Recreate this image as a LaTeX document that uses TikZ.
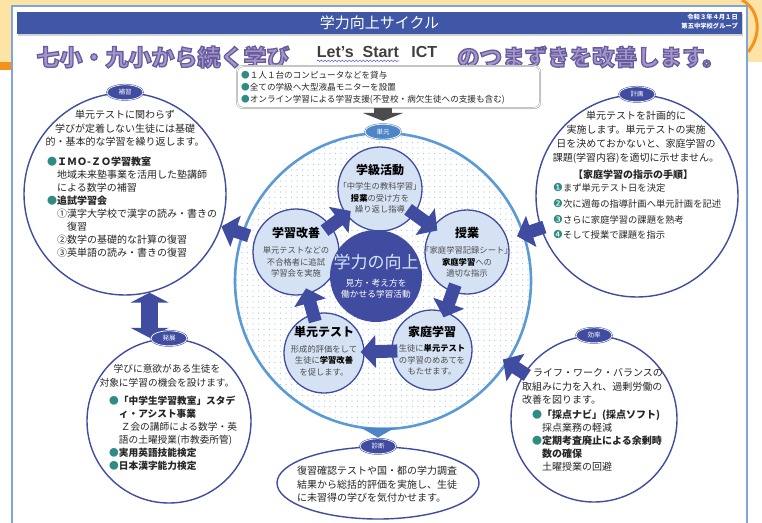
\documentclass[tikz,border=0pt]{standalone}
\usepackage{fontspec}
\setmainfont{Noto Sans CJK JP}
\newfontfamily\dejavu{DejaVu Sans}
\newfontfamily\latinsans{Liberation Sans}
\usetikzlibrary{positioning,arrows.meta,shapes.geometric,patterns.meta,decorations.pathmorphing,shadows}
\definecolor{cyclenavy}{HTML}{3F4CA0}
\definecolor{innerfill}{HTML}{D4E2F3}
\definecolor{ringblue}{HTML}{5B9BD5}
\definecolor{tagblue}{HTML}{4C86C9}
\definecolor{dotteal}{HTML}{2E8C85}
\definecolor{barblue}{HTML}{3F57A6}
\definecolor{headlav}{HTML}{A597CE}
\definecolor{yellowbg}{HTML}{FDE4A4}
\definecolor{orangebg}{HTML}{F5921E}
\definecolor{panelblue}{HTML}{7FA6DA}
\definecolor{coretitle}{HTML}{D5E4F7}
\newcommand\setfs[2]{\fontsize{#1}{#2}\selectfont}
\newcommand\tdot{\textcolor{dotteal}{●}}
\newcommand\ndot[1]{{\dejavu\setfs{11}{11}\textcolor{dotteal}{#1}}}
\newcommand\keyw[1]{\textbf{\textcolor{black}{#1}}}
\newcommand\edged[1]{\special{pdf:literal direct 0.416 0.361 0.612 RG 1.3 w 2 Tr}#1\special{pdf:literal direct 0 Tr}}

\begin{document}
\begin{tikzpicture}[x=1pt, y=-1pt,
    txt/.style={inner sep=0pt, text=black!85},
    sidecircle/.style={circle, draw=cyclenavy, line width=1.4pt, fill=white, inner sep=0pt, minimum size=#1},
    cyclecircle/.style={circle, draw=cyclenavy, line width=1.3pt, fill=innerfill, inner sep=0pt, minimum size=#1},
    tag/.style={ellipse, draw=cyclenavy, fill=cyclenavy, double=white, double distance=0.7pt, line width=0.5pt,
        text=white, inner sep=0pt, minimum width=36pt, minimum height=15pt, font=\setfs{6.5}{7}},
    blockarrow/.style={draw=cyclenavy, line width=13pt, -{Triangle[width=32pt,length=15pt]}},
    headtxt/.style={txt, text=headlav, font=\setfs{23}{23}\bfseries},
    ctitle/.style={txt, text=black, font=\setfs{12}{12}\bfseries},
    cbody/.style={txt, align=center, text=black!70, font=\setfs{8.3}{11.5}}]
\useasboundingbox (0,0) rectangle (762,522);

% background and panel
\fill[yellowbg] (0,0) rectangle (762,62);
\fill[orangebg] (0,62) rectangle (13,70);
\draw[orangebg, line width=3pt] (742,0) .. controls (760,10) and (762,35) .. (748,52);
\draw[panelblue, line width=1.3pt, fill=white] (12,6) rectangle (747,540);

% title bar
\node[fill=barblue, minimum width=725pt, minimum height=22pt, inner sep=0pt,
    drop shadow={shadow xshift=1pt, shadow yshift=-1.5pt, opacity=0.35}] (bar) at (379.5,23) {};
\node[txt, text=white, font=\setfs{15}{15}] (bar-t) at (bar) {学力向上サイクル};
\node[txt, text=white, anchor=east, align=right, font=\setfs{6.3}{8.5}\bfseries] (bar-d) at (738,21.5) {令和３年４月１日\\第五中学校グループ};

% headline
\node[headtxt] (head-a) at (163,57) {\edged{七小・九小から続く学び}};
\node[headtxt, font=\setfs{22.5}{23}\bfseries] (head-b) at (591,57) {\edged{のつまずきを改善します。}};
\node[txt, font=\latinsans\setfs{16}{16}\bfseries, text=black!75] (lets) at (358,52) {Let’s\ \ Start};
\node[txt, font=\latinsans\setfs{16}{16}\bfseries, text=black!75, right=12pt of lets] (ictword) {ICT};
\draw[decorate, decoration={snake, amplitude=0.8pt, segment length=3.5pt}, blue!70, line width=0.5pt]
    ([yshift=-3pt]lets.south west) -- ([yshift=-3pt]lets.south east);

% ICT box
\node[draw=gray!70, double=white, double distance=0.9pt, line width=0.5pt, rounded corners=6pt, fill=white,
    minimum width=303pt, minimum height=42pt, drop shadow={shadow xshift=1pt, shadow yshift=-1pt, opacity=0.3}] (ict) at (388.5,87) {};
\node[txt, anchor=west, align=left, font=\setfs{8.6}{12}] (ict-t) at (241,88)
    {\tdot １人１台のコンピュータなどを貸与\\\tdot 全ての学級へ大型液晶モニターを設置\\\tdot オンライン学習による学習支援(不登校・病欠生徒への支援も含む)};

% outer circles
\node[sidecircle=202pt] (hoshu) at (125,194) {};
\node[sidecircle=202pt] (keikaku) at (637,196) {};
\node[sidecircle=164pt] (hatten) at (169,421) {};
\node[sidecircle=166pt] (koritsu) at (594,419) {};
\node[ellipse, draw=cyclenavy, line width=1.4pt, fill=white, minimum width=202pt, minimum height=72pt] (shindan) at (378,483) {};

% big ring
\node[circle, minimum size=296pt, draw=ringblue, line width=2.6pt, preaction={fill=white},
    pattern={Dots[radius=0.55pt,distance=5.5pt]}, pattern color=ringblue!55] (big) at (383,281) {};

% cycle
\node[cyclecircle=84pt] (gakkyu) at (380,189) {};
\node[cyclecircle=84pt] (jugyo) at (467,252) {};
\node[cyclecircle=86pt] (kaizen) at (296,252) {};
\node[cyclecircle=80pt] (test) at (324,353) {};
\node[cyclecircle=80pt] (katei) at (432,350) {};
\draw[blockarrow, shorten <=-8pt, shorten >=-6pt] (gakkyu) -- (jugyo);
\draw[blockarrow, shorten <=-8pt, shorten >=-6pt] (jugyo) -- (katei);
\draw[blockarrow, shorten <=-6pt, shorten >=-4pt] (katei) -- (test);
\draw[blockarrow, shorten <=-8pt, shorten >=-6pt] (test) -- (kaizen);
\draw[blockarrow, shorten <=-8pt, shorten >=-6pt] (kaizen) -- (gakkyu);
\node[circle, fill=cyclenavy, minimum size=92pt] (core) at (376,276) {};

% arrows to and from the ring
\draw[blockarrow, shorten <=-8pt] (big) -- (hoshu);
\draw[blockarrow, shorten <=-4pt, shorten >=-8pt] (keikaku) -- (big);
\draw[blockarrow, shorten <=-4pt, shorten >=-6pt] (koritsu) -- (big);
\draw[blockarrow, line width=17pt, {Triangle[width=38pt,length=10pt]}-{Triangle[width=38pt,length=10pt]}, shorten >=3pt]
    (hoshu.-76) -- (hoshu.-76 |- hatten.104);

% tags
\node[tag] (hoshu-tag) at (hoshu.north) {補習};
\node[tag] (keikaku-tag) at (keikaku.north) {計画};
\node[tag] (hatten-tag) at (hatten.north) {発展};
\node[tag] (koritsu-tag) at (koritsu.north) {効率};
\node[tag] (shindan-tag) at (shindan.north) {診断};
\node[tag, fill=tagblue, draw=tagblue] (tangen) at (big.north) {単元};
\draw[draw=gray!60!black, line width=18pt, -{Triangle[width=40pt,length=8pt]}, shorten >=3pt]
    (ict.south -| tangen) -- (tangen.north);
\draw[draw=tagblue, line width=14pt, -{Triangle[width=34pt,length=10pt]}, shorten >=1pt]
    (big.south -| shindan-tag) -- (shindan-tag.north);

% cycle texts
\node[ctitle] (gakkyu-h) at ([yshift=19pt]gakkyu.center) {学級活動};
\node[cbody] (gakkyu-b) at ([yshift=-9pt]gakkyu.center) {「中学生の教科学習」\\\keyw{授業}の受け方を\\繰り返し指導};
\node[ctitle] (jugyo-h) at ([yshift=19pt]jugyo.center) {授業};
\node[cbody] (jugyo-b) at ([yshift=-10pt]jugyo.center) {「家庭学習記録シート」\\\keyw{家庭学習}への\\適切な指示};
\node[ctitle] (kaizen-h) at ([yshift=19pt]kaizen.center) {学習改善};
\node[cbody] (kaizen-b) at ([yshift=-10pt]kaizen.center) {単元テストなどの\\不合格者に追試\\学習会を実施};
\node[ctitle] (test-h) at ([yshift=21pt]test.center) {単元テスト};
\node[cbody] (test-b) at ([yshift=-7.5pt]test.center) {形成的評価をして\\生徒に\keyw{学習改善}\\を促します。};
\node[ctitle] (katei-h) at ([yshift=18pt]katei.center) {家庭学習};
\node[cbody] (katei-b) at ([yshift=-10pt]katei.center) {生徒に\keyw{単元テスト}\\の学習のめあてを\\もたせます。};
\node[txt, text=coretitle, font=\setfs{17}{17}] (core-h) at ([yshift=14pt]core.center) {学力の向上};
\node[txt, align=center, text=white, font=\setfs{8.7}{11}] (core-b) at ([yshift=-13pt]core.center) {見方・考え方を\\働かせる学習活動};

% outer texts
\node[txt, align=center, font=\setfs{10}{13.5}] (hoshu-t) at (125,128.5)
    {単元テストに関わらず\\学びが定着しない生徒には基礎\\的・基本的な学習を繰り返します。};
\node[txt, anchor=west, align=left, font=\setfs{10}{13.1}] (hoshu-l) at (47,207)
    {\tdot\textbf{ＩＭＯ-ＺＯ学習教室}\\\hspace*{1em}地域未来塾事業を活用した塾講師\\\hspace*{1em}による数学の補習\\
     \tdot\textbf{追試学習会}\\\hspace*{1em}①漢字大学校で漢字の読み・書きの\\\hspace*{2em}復習\\
     \hspace*{1em}②数学の基礎的な計算の復習\\\hspace*{1em}③英単語の読み・書きの復習};
\node[txt, align=center, font=\setfs{10}{14}] (keikaku-t) at (636,137)
    {単元テストを計画的に\\実施します。単元テストの実施\\日を決めておかないと、家庭学習の\\課題(学習内容)を適切に示せません。};
\node[txt, font=\setfs{10}{10}\bfseries] (keikaku-h) at (633,175) {【家庭学習の指示の手順】};
\node[txt, anchor=west, align=left, font=\setfs{9.3}{15.7}] (keikaku-l) at (553,211.5)
    {\ndot{❶}まず単元テスト日を決定\\\ndot{❷}次に週毎の指導計画へ単元計画を記述\\\ndot{❸}さらに家庭学習の課題を熟考\\\ndot{❹}そして授業で課題を指示};
\node[txt, align=center, font=\setfs{9.7}{14}] (hatten-t) at (167,376)
    {学びに意欲がある生徒を\\対象に学習の機会を設けます。};
\node[txt, anchor=west, align=left, font=\setfs{9.7}{13}] (hatten-l) at (109,433.5)
    {\tdot\textbf{「中学生学習教室」スタデ}\\\hspace*{1em}\textbf{ィ・アシスト事業}\\\hspace*{1.2em}Ｚ会の講師による数学・英\\
     \hspace*{1em}語の土曜授業(市教委所管)\\\tdot\textbf{実用英語技能検定}\\\tdot\textbf{日本漢字能力検定}};
\node[txt, anchor=west, align=left, font=\setfs{10}{13.5}] (koritsu-t) at (522,386.5)
    {\hspace*{1.1em}ライフ・ワーク・バランスの\\取組みに力を入れ、過剰労働の\\改善を図ります。};
\node[txt, anchor=west, align=left, font=\setfs{10}{13}] (koritsu-l) at (532,441)
    {\tdot\textbf{「採点ナビ」(採点ソフト)}\\\hspace*{1em}採点業務の軽減\\\tdot\textbf{定期考査廃止による余剰時}\\
     \hspace*{1em}\textbf{数の確保}\\\hspace*{1em}土曜授業の回避};
\node[txt, anchor=west, align=left, font=\setfs{10}{13.5}] (shindan-t) at (297,484.5)
    {復習確認テストや国・都の学力調査\\結果から総括的評価を実施し、生徒\\に未習得の学びを気付かせます。};
\end{tikzpicture}
\end{document}
